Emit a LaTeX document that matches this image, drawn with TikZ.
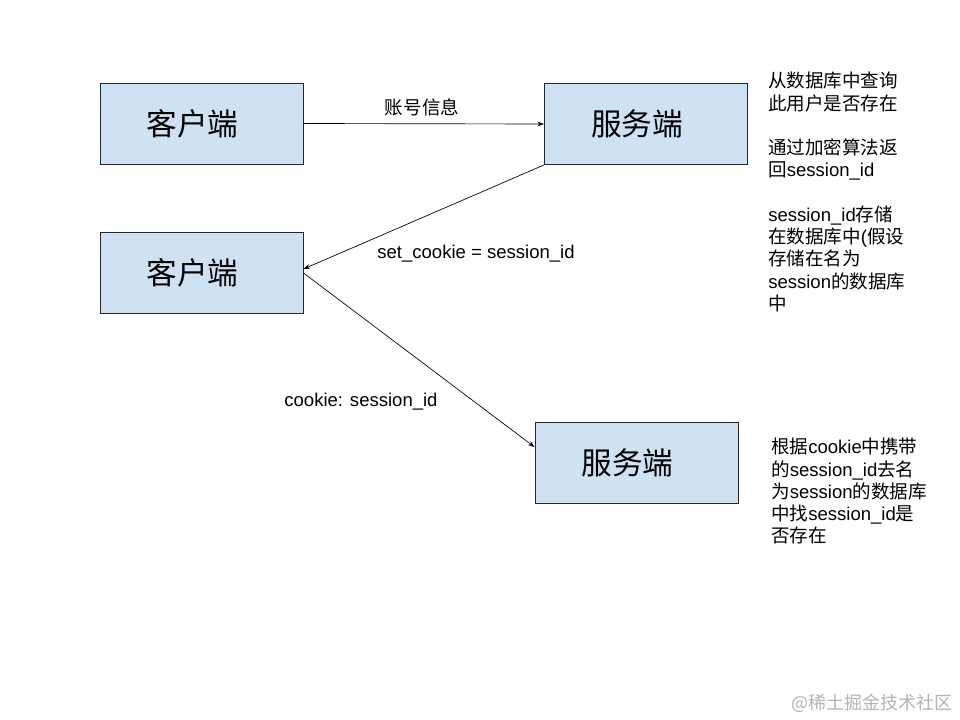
\documentclass[tikz,border=0pt]{standalone}
\usepackage{fontspec}
\setmainfont{Liberation Sans}
\newfontfamily\cjk{Noto Sans CJK SC}
\usetikzlibrary{arrows.meta}
\definecolor{boxfill}{HTML}{CFE2F3}
\definecolor{wmgray}{HTML}{B4B4B4}
\newcommand{\boxtext}[1]{#1\hspace*{13.5pt}}
\tikzset{
  box/.style={draw=black!85, fill=boxfill, line width=0.7pt, minimum width=152.25pt, minimum height=60.75pt, inner sep=0pt, font=\cjk\fontsize{23}{23}\selectfont},
  conn/.style={draw=black, line width=0.5pt, -{Stealth[length=5pt,width=3.5pt]}},
  lbl/.style={inner sep=0pt, font=\fontsize{13.9}{16}\selectfont},
  note/.style={inner sep=0pt, align=left, anchor=north west, font=\fontsize{13.9}{16.7}\selectfont}
}
\begin{document}
\begin{tikzpicture}[x=0.75pt,y=-0.75pt]
\useasboundingbox (0,0) rectangle (960,720);
\fill[white] (0,0) rectangle (960,720);

\node[box] (c1) at (201.5,123.5) {\boxtext{客户端}};
\node[box] (s1) at (646,124) {\boxtext{服务端}};
\node[box] (c2) at (201.5,273) {\boxtext{客户端}};
\node[box] (s2) at (636.5,462.5) {\boxtext{服务端}};

\draw[conn] (c1.east) -- (s1.west);
\draw[conn] (s1.south west) -- ([yshift=3pt]c2.east);
\draw[conn] (c2.east) -- ([yshift=11.6pt]s2.west);

\node[lbl] (l1) at (422,107) {\cjk 账号信息};
\node[lbl] (l2) at (476,254) {set\_cookie = session\_id};
\node[lbl] (l3) at (361,402) {cookie: session\_id};

\node[note] (n1) at (768,72) {{\cjk 从数据库中查询}\\{\cjk 此用户是否存在}\\[16.7pt]{\cjk 通过加密算法返}\\{\cjk 回}session\_id\\[16.7pt]session\_id{\cjk 存储}\\{\cjk 在数据库中}({\cjk 假设}\\{\cjk 存储在名为}\\session{\cjk 的数据库}\\{\cjk 中}};

\node[note] (n2) at (771,438) {{\cjk 根据}cookie{\cjk 中携带}\\{\cjk 的}session\_id{\cjk 去名}\\{\cjk 为}session{\cjk 的数据库}\\{\cjk 中找}session\_id{\cjk 是}\\{\cjk 否存在}};

\node[inner sep=0pt, anchor=east, text=wmgray, font=\cjk\fontsize{13.5}{14}\selectfont] (wm) at (953,703) {@稀土掘金技术社区};
\end{tikzpicture}
\end{document}
